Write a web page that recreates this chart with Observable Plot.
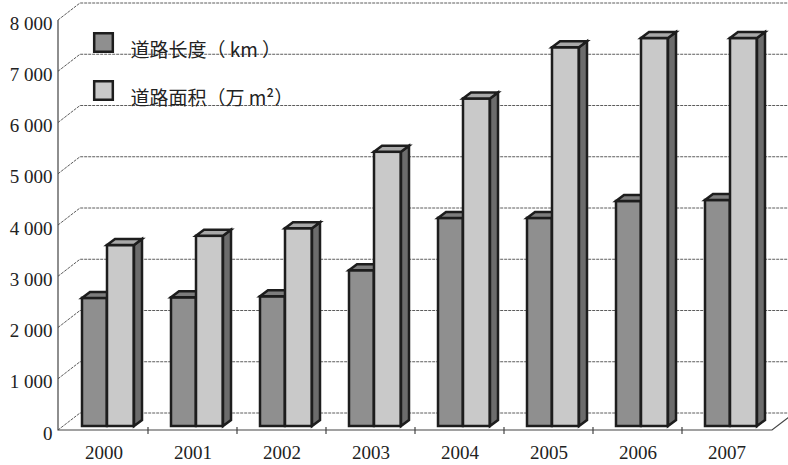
<!DOCTYPE html>
<html>
<head>
<meta charset="utf-8">
<script src="https://cdn.jsdelivr.net/npm/d3@7"></script>
<script src="https://cdn.jsdelivr.net/npm/@observablehq/plot@0.6"></script>
<style>
  html, body { margin: 0; padding: 0; background: #fff; }
</style>
</head>
<body>
<div id="chart"></div>
<script>
// ---- data ----
const years = ["2000", "2001", "2002", "2003", "2004", "2005", "2006", "2007"];
const roadLength = [2500, 2510, 2530, 3040, 4060, 4060, 4390, 4410];   // 道路长度 (km)
const roadArea   = [3530, 3710, 3860, 5350, 6390, 7390, 7570, 7570];   // 道路面积 (万 m²)
const seriesNames = ["道路长度（ km ）", "道路面积（万 m²）"];
const yTicks = [0, 1000, 2000, 3000, 4000, 5000, 6000, 7000, 8000];
const yTickLabels = ["0", "1 000", "2 000", "3 000", "4 000", "5 000", "6 000", "7 000", "8 000"];

const lengthRows = years.map((year, i) => ({year, value: roadLength[i]}));
const areaRows = years.map((year, i) => ({year, value: roadArea[i]}));

// ---- styling / geometry (pixels) ----
const W = 788, H = 465;
const WALL = {dx: 22, dy: -17};      // depth of back wall
const BOX = {dx: 8, dy: -6};         // depth of each bar
const LIFT = -4;                     // bars' front face sits slightly behind the front plane
const BW = (W - 58 - 16) / years.length;
const slot = [[23, 48], [48, 75]];   // bar left/right offsets inside a band
const frontFill = ["#8f8f8f", "#c9c9c9"];
const topFill = ["#7d7d7d", "#a9a9a9"];
const sideFill = "#6c6c6c";
const edge = "#1d1d1d";
const gridColor = "#5c5c5c";
const serif = "'Liberation Serif', 'Times New Roman', Times, serif";

function wall(index, scales, values, dim) {
  const {x, y} = scales;
  const g = d3.create("svg:g");
  const x0 = dim.marginLeft, x1 = dim.width - dim.marginRight;
  const y0 = y(0);
  for (const t of yTicks) {
    const yy = y(t);
    g.append("path")
      .attr("d", `M${x0},${yy}L${x0 + WALL.dx},${yy + WALL.dy}H${dim.width + 40}`)
      .attr("fill", "none").attr("stroke", gridColor).attr("stroke-width", 1)
      .attr("stroke-dasharray", "3,1");
  }
  g.append("path")
    .attr("d", `M${x0},${y(8000)}V${y0}H${x1}l${WALL.dx},${WALL.dy}`)
    .attr("fill", "none").attr("stroke", "#444").attr("stroke-width", 1.2);
  for (const yr of years.slice(1)) {
    const xb = x(yr);
    g.append("line").attr("x1", xb).attr("x2", xb).attr("y1", y0 - 3).attr("y2", y0 + 4)
      .attr("stroke", "#444").attr("stroke-width", 1.2);
  }
  return g.node();
}

function boxFaces(rows, k, withSide) {
  return function(index, scales) {
    const {x, y} = scales;
    const g = d3.create("svg:g")
      .attr("stroke", edge).attr("stroke-width", 2.5).attr("stroke-linejoin", "miter");
    for (const d of rows) {
      const xl = x(d.year) + slot[k][0], xr = x(d.year) + slot[k][1];
      const yt = y(d.value) + LIFT, yb = y(0) + LIFT;
      if (withSide) {
        g.append("path")
          .attr("d", `M${xr},${yt}L${xr + BOX.dx},${yt + BOX.dy}L${xr + BOX.dx},${yb + BOX.dy}L${xr},${yb}Z`)
          .attr("fill", sideFill);
      }
      g.append("path")
        .attr("d", `M${xl},${yt}L${xr},${yt}L${xr + BOX.dx},${yt + BOX.dy}L${xl + BOX.dx},${yt + BOX.dy}Z`)
        .attr("fill", topFill[k]);
    }
    return g.node();
  };
}

function front(rows, k) {
  return Plot.barY(rows, {
    x: "year", y: "value",
    insetLeft: slot[k][0], insetRight: BW - slot[k][1],
    dy: LIFT,
    fill: frontFill[k], stroke: edge, strokeWidth: 2.5, strokeLinejoin: "miter"
  });
}

const legendMarks = seriesNames.flatMap((name, i) => [
  Plot.dot([name], {
    frameAnchor: "top-left", dx: 45, dy: 22 + 48 * i,
    symbol: "square", r: 10.5,
    fill: frontFill[i], stroke: edge, strokeWidth: 2.5
  }),
  Plot.text([name], {
    frameAnchor: "top-left", dx: 72, dy: 23 + 48 * i,
    text: d => d, textAnchor: "start",
    fontFamily: "'Noto Sans CJK SC', sans-serif", fontSize: 19, fill: "#222"
  })
]);

const chart = Plot.plot({
  width: W,
  height: H,
  marginLeft: 58,
  marginRight: 16,
  marginTop: 20,
  marginBottom: 35,
  style: {background: "#fff"},
  x: {type: "band", domain: years, padding: 0},
  y: {domain: [0, 8000]},
  marks: [
    wall,
    Plot.axisX(years, {
      tickSize: 0, tickPadding: 15, label: null,
      fontFamily: serif, fontSize: 19, fill: "#222"
    }),
    Plot.axisY(yTicks, {
      tickSize: 0, tickPadding: 6, label: null, dy: 3,
      tickFormat: d => yTickLabels[yTicks.indexOf(d)],
      fontFamily: serif, fontSize: 19, fill: "#222"
    }),
    front(lengthRows, 0),
    boxFaces(lengthRows, 0, false),
    front(areaRows, 1),
    boxFaces(areaRows, 1, true),
    ...legendMarks
  ]
});
document.getElementById("chart").appendChild(chart);
</script>
</body>
</html>
